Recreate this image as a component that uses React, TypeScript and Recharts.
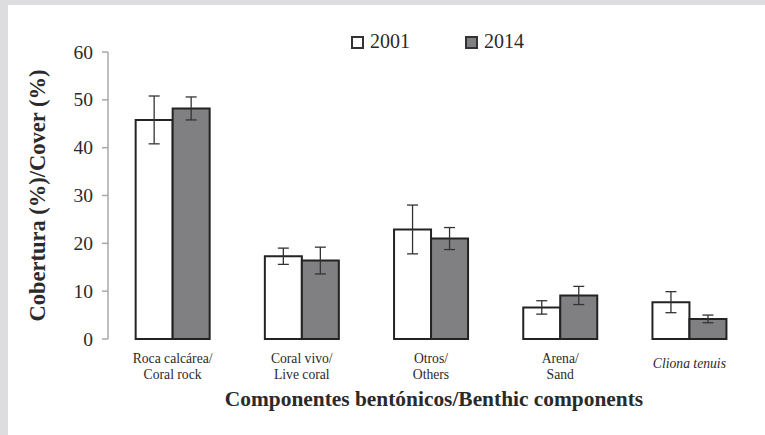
import React from 'react';
import { BarChart, Bar, XAxis, YAxis, ErrorBar, Label } from 'recharts';

const categories = ['Roca calcárea/\nCoral rock', 'Coral vivo/\nLive coral', 'Otros/\nOthers', 'Arena/\nSand', 'Cliona tenuis'];
const italicCategories = ['Cliona tenuis'];
const seriesNames = ['2001', '2014'];
const values2001 = [45.8, 17.3, 22.9, 6.6, 7.7];
const errors2001 = [5.0, 1.7, 5.1, 1.4, 2.2];
const values2014 = [48.2, 16.4, 21.0, 9.1, 4.2];
const errors2014 = [2.4, 2.8, 2.3, 1.9, 0.8];
const yTicks = [0, 10, 20, 30, 40, 50, 60];
const yTitle = 'Cobertura (%)/Cover (%)';
const xTitle = 'Componentes bentónicos/Benthic components';

const data = categories.map((c, i) => ({
  category: c,
  v2001: values2001[i],
  e2001: errors2001[i],
  v2014: values2014[i],
  e2014: errors2014[i],
}));

const boundaryTicks = Array.from({ length: categories.length + 1 }, (_, i) => i);

const FONT = '"Liberation Serif", "Times New Roman", serif';
const TEXT = '#2a2a2a';
const AXIS = '#a8a8a8';
const WHITE_FILL = '#ffffff';
const GRAY_FILL = '#808083';
const BAR_STROKE = '#232323';
const fontStyle = { fontFamily: FONT };

const CatTick = (props: any) => {
  const { x, y, payload } = props;
  const value = String(payload.value);
  const lines = value.split('\n');
  const italic = italicCategories.includes(value);
  const squeeze = `translate(${x},0) scale(0.91,1) translate(${-x},0)`;
  if (lines.length === 1) {
    return (
      <text x={x} y={y + 29} transform={squeeze} textAnchor="middle" fontSize={15} fill={TEXT} style={{ ...fontStyle, fontStyle: italic ? 'italic' : 'normal' }}>
        {lines[0]}
      </text>
    );
  }
  return (
    <text transform={squeeze} textAnchor="middle" fontSize={15} fill={TEXT} style={fontStyle}>
      {lines.map((l, i) => (
        <tspan key={i} x={x} y={y + 24 + i * 16.5}>{l}</tspan>
      ))}
    </text>
  );
};

const YTick = (props: any) => {
  const { x, y, payload } = props;
  return (
    <text x={x} y={y} dy={6.5} textAnchor="end" fontSize={19.5} fill={TEXT} style={fontStyle}>
      {payload.value}
    </text>
  );
};

const EmptyTick = () => <g />;

const XTitle = (props: any) => {
  const vb = props.viewBox || {};
  return (
    <text x={vb.x + vb.width / 2 + 3} y={vb.y + 67} textAnchor="middle" fontSize={21.4} fontWeight="bold" fill={TEXT} style={fontStyle}>
      {xTitle}
    </text>
  );
};

const YTitle = (props: any) => {
  const vb = props.viewBox || {};
  const cx = 37;
  const cy = vb.y + vb.height / 2;
  return (
    <text x={cx} y={cy} transform={`rotate(-90, ${cx}, ${cy})`} textAnchor="middle" fontSize={22.5} fontWeight="bold" fill={TEXT} style={fontStyle}>
      {yTitle}
    </text>
  );
};

export default function App() {
  return (
    <div style={{ position: 'absolute', left: 0, top: 0, width: 765, height: 435, background: '#dddde0', fontFamily: FONT }}>
      <div style={{ position: 'absolute', left: 8, top: 5, width: 757, height: 430, background: '#ffffff' }}>
        <BarChart
          width={757}
          height={430}
          data={data}
          margin={{ top: 47, right: 11, bottom: 26, left: 10 }}
          barGap={0}
          barCategoryGap="21.4%"
          style={fontStyle}
        >
          <XAxis
            xAxisId="grid"
            type="number"
            domain={[0, categories.length]}
            ticks={boundaryTicks}
            tick={EmptyTick}
            height={0}
            axisLine={{ stroke: AXIS, strokeWidth: 1.5 }}
            tickLine={{ stroke: AXIS, strokeWidth: 1.5 }}
            tickSize={6}
            allowDataOverflow
          />
          <XAxis
            xAxisId="cat"
            dataKey="category"
            axisLine={false}
            tickLine={false}
            tickSize={0}
            tickMargin={0}
            height={70}
            interval={0}
            tick={CatTick}
          >
            <Label content={XTitle} />
          </XAxis>
          <YAxis
            width={90}
            domain={[0, 60]}
            ticks={yTicks}
            interval={0}
            axisLine={{ stroke: AXIS, strokeWidth: 1.5 }}
            tickLine={{ stroke: AXIS, strokeWidth: 1.5 }}
            tickSize={6}
            tickMargin={9}
            tick={YTick}
          >
            <Label content={YTitle} />
          </YAxis>
          <Bar xAxisId="cat" dataKey="v2001" name={seriesNames[0]} fill={WHITE_FILL} stroke={BAR_STROKE} strokeWidth={2} isAnimationActive={false}>
            <ErrorBar dataKey="e2001" width={5.5} stroke="#333" strokeWidth={1.3} direction="y" />
          </Bar>
          <Bar xAxisId="cat" dataKey="v2014" name={seriesNames[1]} fill={GRAY_FILL} stroke={BAR_STROKE} strokeWidth={2} isAnimationActive={false}>
            <ErrorBar dataKey="e2014" width={5.5} stroke="#333" strokeWidth={1.3} direction="y" />
          </Bar>
        </BarChart>
        <svg width={757} height={60} style={{ position: 'absolute', left: 0, top: 0 }}>
          <rect x={344} y={32} width={11} height={11} fill={WHITE_FILL} stroke="#333" strokeWidth={2} />
          <text x={362} y={43} fontSize={20} fill={TEXT} style={fontStyle}>{seriesNames[0]}</text>
          <rect x={458} y={32} width={11} height={11} fill={GRAY_FILL} stroke="#333" strokeWidth={2} />
          <text x={476} y={43} fontSize={20} fill={TEXT} style={fontStyle}>{seriesNames[1]}</text>
        </svg>
      </div>
    </div>
  );
}
